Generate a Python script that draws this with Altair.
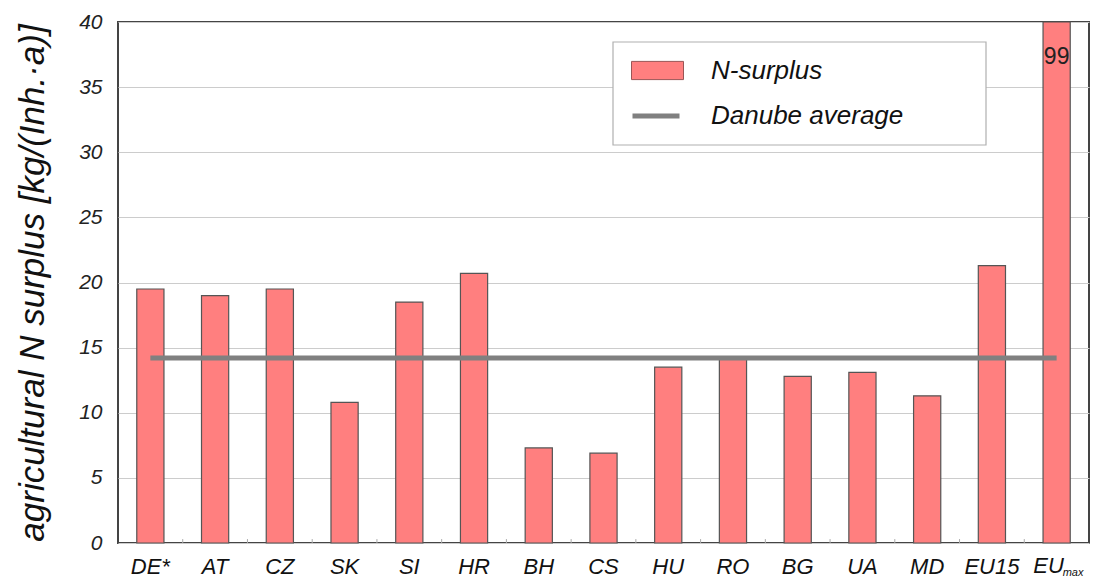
import altair as alt
import pandas as pd

categories = ["DE*", "AT", "CZ", "SK", "SI", "HR", "BH", "CS", "HU", "RO", "BG", "UA", "MD", "EU15", "EU_max"]
n_surplus = [19.5, 19.0, 19.5, 10.8, 18.5, 20.7, 7.3, 6.9, 13.5, 14.1, 12.8, 13.1, 11.3, 21.3, 99]
danube_average = 14.2
y_ticks = [0, 5, 10, 15, 20, 25, 30, 35, 40]

FONT = "Liberation Sans"
W, H = 971, 521

df = pd.DataFrame({"cat": categories, "value": n_surplus, "series_bar": "N-surplus"})
df_line = pd.DataFrame({"cat": categories, "avg": [danube_average] * len(categories),
                        "series_line": "Danube average"})
df_ticks = pd.DataFrame({"cat": categories[1:]})
df_over = df[df["value"] > 40]

xscale = alt.Scale(domain=categories, paddingInner=0, paddingOuter=0)
yscale = alt.Scale(domain=[0, 40], clamp=True, nice=False)

x_axis = alt.Axis(title=None, domain=False, ticks=False, grid=False,
                  labelFont=FONT, labelFontStyle="italic", labelFontSize=22,
                  labelColor="#111", labelPadding=13, labelAngle=0,
                  labelExpr="datum.value == 'EU_max' ? '' : datum.value")
y_axis = alt.Axis(values=y_ticks, title="agricultural N surplus [kg/(Inh.·a)]",
                  titleFont=FONT, titleFontStyle="italic", titleFontWeight="normal",
                  titleFontSize=35, titleColor="#111", titlePadding=28,
                  labelFont=FONT, labelFontStyle="italic", labelFontSize=21,
                  labelColor="#222", labelPadding=16, domain=False, ticks=False,
                  grid=True, gridColor="#cccccc", gridWidth=1.2)


def xenc(**kw):
    return alt.X("cat:N", scale=xscale, sort=categories, axis=x_axis, **kw)


frame = alt.Chart(pd.DataFrame({"k": [0]})).mark_rect(
    fill="white", stroke="#b0b0b0", strokeWidth=1.2
).encode(x=alt.value(495), x2=alt.value(868), y=alt.value(20), y2=alt.value(123))

bars = alt.Chart(df).mark_bar(width=alt.RelativeBandSize(0.42), stroke="#555555",
                              strokeWidth=1.2).encode(
    x=xenc(),
    y=alt.Y("value:Q", scale=yscale, axis=y_axis),
    fill=alt.Fill("series_bar:N",
                  scale=alt.Scale(domain=["N-surplus"], range=["#FF7F7F"]),
                  legend=alt.Legend(title=None, orient="none", legendX=513, legendY=22,
                                    symbolType="M-1,-0.35H1V0.35H-1Z", symbolSize=2704,
                                    symbolStrokeColor="#9a5555", symbolStrokeWidth=1,
                                    labelFont=FONT, labelFontStyle="italic", labelFontSize=26,
                                    labelColor="#111", labelOffset=27, labelLimit=400,
                                    padding=0)),
)

minor = alt.Chart(df_ticks).mark_rule(color="#aaaaaa", strokeWidth=1).encode(
    x=xenc(bandPosition=0),
    y=alt.datum(0), y2=alt.datum(0.3),
)

line = alt.Chart(df_line).mark_line(strokeWidth=5).encode(
    x=xenc(),
    y=alt.Y("avg:Q", scale=yscale, axis=y_axis),
    stroke=alt.Stroke("series_line:N",
                      scale=alt.Scale(domain=["Danube average"], range=["#808080"]),
                      legend=alt.Legend(title=None, orient="none", legendX=512, legendY=68,
                                        symbolType="stroke", symbolSize=2209,
                                        symbolStrokeWidth=5,
                                        labelFont=FONT, labelFontStyle="italic",
                                        labelFontSize=26, labelColor="#111",
                                        labelOffset=29, labelLimit=400, padding=0)),
)

over_text = alt.Chart(df_over).mark_text(font=FONT, fontSize=23, color="#222",
                                         baseline="middle", dy=35).encode(
    x=xenc(),
    y=alt.datum(40),
    text=alt.Text("value:Q", format="d"),
)

eu_main = alt.Chart(pd.DataFrame({"cat": ["EU_max"], "t": ["EU"]})).mark_text(
    font=FONT, fontStyle="italic", fontSize=22, color="#111", baseline="alphabetic", dx=-8
).encode(x=xenc(), y=alt.value(H + 30), text="t:N")

eu_sub = alt.Chart(pd.DataFrame({"cat": ["EU_max"], "t": ["max"]})).mark_text(
    font=FONT, fontStyle="italic", fontSize=11, color="#111", baseline="alphabetic",
    align="left", dx=6
).encode(x=xenc(), y=alt.value(H + 33), text="t:N")

chart = alt.layer(frame, bars, minor, line, over_text, eu_main, eu_sub).resolve_legend(
    fill="independent", stroke="independent"
).properties(
    width=W, height=H,
    autosize=alt.AutoSizeParams(type="none"),
    padding={"left": 110, "top": 14, "right": 2, "bottom": 37},
    background="white",
).configure_view(stroke="#444444", strokeWidth=2)

chart.save("out.html", embed_options={"renderer": "svg", "actions": False})
